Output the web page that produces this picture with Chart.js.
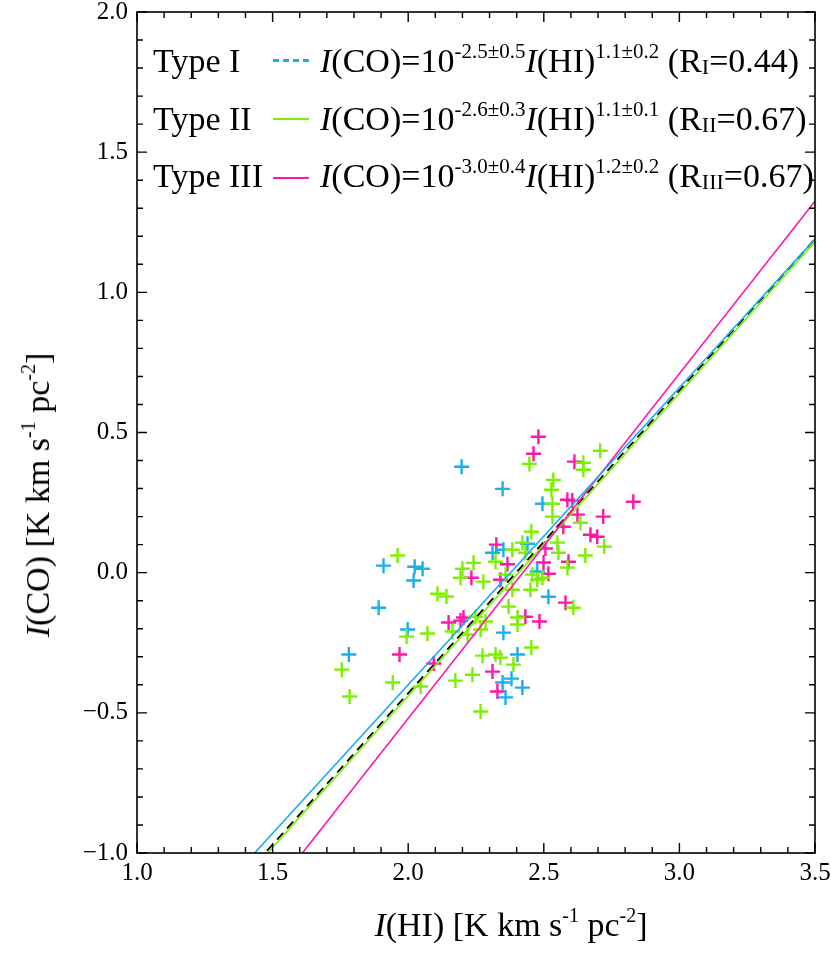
<!DOCTYPE html>
<html>
<head>
<meta charset="utf-8">
<script src="https://cdn.jsdelivr.net/npm/chart.js@4"></script>
<style>
  body { margin: 0; background: #fff; }
  #wrap { position: relative; width: 831px; height: 954px; font-family: "Liberation Serif", serif; color: #000; }
  canvas { position: absolute; left: 0; top: 0; }
  .txt { position: absolute; white-space: nowrap; font-size: 34px; line-height: 40px; }
  .sample { position: absolute; height: 0; }
  sup { font-size: 21px; vertical-align: 0; position: relative; top: -14px; }
  sub { font-size: 22px; vertical-align: 0; position: relative; top: 2px; }
  .xt { position: absolute; left: 511px; top: 905px; font-size: 34px; line-height: 40px; white-space: nowrap; transform: translateX(-50%); }
  .yt { position: absolute; left: 40px; top: 495px; font-size: 34px; line-height: 40px; white-space: nowrap; transform: translate(-50%, -50%) rotate(-90deg); }
  .xt sup, .yt sup { font-size: 20px; top: -14px; }
</style>
</head>
<body>
<div id="wrap">
  <canvas id="myChart" width="831" height="954"></canvas>
  <div id="legend"></div>
  <div class="xt"><i>I</i>(HI) [K km s<sup>-1</sup> pc<sup>-2</sup>]</div>
  <div class="yt"><i>I</i>(CO) [K km s<sup>-1</sup> pc<sup>-2</sup>]</div>
</div>
<script>
"use strict";

// points, log I(HI) vs log I(CO)
const type1X = [2.197, 2.348, 1.909, 2.024, 2.053, 2.020, 1.891, 2.311, 2.351, 2.440, 2.495,
  2.476, 2.517, 1.998, 2.351, 1.781, 2.403, 2.348, 2.381, 2.421, 2.359];
const type1Y = [0.378, 0.299, 0.025, 0.021, 0.014, -0.028, -0.125, 0.071, 0.082, 0.103, 0.246,
  0.004, -0.086, -0.203, -0.214, -0.292, -0.292, -0.392, -0.378, -0.410, -0.445];

const type2X = [1.961, 2.108, 2.141, 2.200, 2.241, 2.193, 2.277, 2.322, 2.384, 2.248, 2.285,
  2.267, 2.219, 2.163, 1.994, 2.071, 1.755, 2.274, 2.322, 2.340, 2.388, 2.237, 2.174, 1.943,
  2.046, 1.784, 2.267, 2.370, 2.403, 2.403, 2.454, 2.532, 2.454, 2.421, 2.432, 2.550, 2.554,
  2.359, 2.458, 2.476, 2.495, 2.384, 2.451, 2.587, 2.609, 2.447, 2.708, 2.646, 2.646, 2.535,
  2.528, 2.532, 2.635, 2.723, 2.653];
const type2Y = [0.061, -0.075, -0.085, 0.014, 0.035, -0.018, -0.032, 0.039, 0.082, -0.157, -0.174,
  -0.203, -0.221, -0.210, -0.228, -0.217, -0.346, -0.296, -0.292, -0.303, -0.328, -0.364, -0.385, -0.392,
  -0.406, -0.442, -0.495, -0.121, -0.160, -0.185, -0.267, 0.200, 0.146, 0.107, 0.071, 0.107, 0.071,
  -0.007, -0.007, -0.025, -0.018, -0.061, -0.061, 0.018, -0.125, 0.388, 0.435, 0.392, 0.367, 0.331,
  0.296, 0.246, 0.178, 0.093, 0.061];

const type3X = [2.233, 2.325, 2.340, 2.366, 2.149, 2.193, 2.204, 1.968, 2.094, 2.311, 2.329,
  2.432, 2.484, 2.506, 2.499, 2.517, 2.591, 2.480, 2.462, 2.613, 2.587, 2.605, 2.624, 2.830,
  2.572, 2.719, 2.672, 2.697, 2.580];
const type3Y = [-0.018, 0.100, -0.025, 0.030, -0.178, -0.171, -0.160, -0.292, -0.324, -0.353, -0.424,
  -0.157, -0.174, 0.086, 0.036, -0.004, 0.039, 0.485, 0.424, 0.396, 0.260, 0.257, 0.207, 0.253,
  0.164, 0.200, 0.135, 0.128, -0.107];

// fitted lines, end values read at x = 1.0 and x = 3.5
const lineX = [1.0, 3.5];
const fit1Y = [-1.46, 1.19];
const fit2Y = [-1.52, 1.18];
const fit3Y = [-1.75, 1.325];
const fitAllY = [-1.51, 1.19];

const xTicks = [1.0, 1.5, 2.0, 2.5, 3.0, 3.5];
const yTicks = [-1.0, -0.5, 0.0, 0.5, 1.0, 1.5, 2.0];

// legend text
const typeLabels = ["Type I", "Type II", "Type III"];
const coefA = ["-2.5±0.5", "-2.6±0.3", "-3.0±0.4"];
const coefB = ["1.1±0.2", "1.1±0.1", "1.2±0.2"];
const rNames = ["I", "II", "III"];
const rValues = ["0.44", "0.67", "0.67"];

const colors = ["#1aaeef", "#7cf000", "#ff17a9"];

function toPoints(xs, ys) {
  return xs.map((x, i) => ({ x: x, y: ys[i] }));
}

function buildLegend() {
  const legend = document.getElementById("legend");
  const rowTop = [41, 99, 156];
  const sampleTop = [59, 118, 177];
  const sampleLine = ["3px dashed " + colors[0], "2px solid " + colors[1], "2px solid " + colors[2]];
  typeLabels.forEach((label, i) => {
    legend.innerHTML +=
      `<div class="txt" style="left:153px;top:${rowTop[i]}px">${label}</div>` +
      `<div class="sample" style="left:273px;width:36px;top:${sampleTop[i]}px;border-top:${sampleLine[i]}"></div>` +
      `<div class="txt" style="left:320px;top:${rowTop[i]}px"><i>I</i>(CO)=10<sup>${coefA[i]}</sup><i>I</i>(HI)<sup>${coefB[i]}</sup> (R<sub>${rNames[i]}</sub>=${rValues[i]})</div>`;
  });
}

// inside ticks on all four sides plus the frame
const frame = {
  id: "frame",
  afterDraw(chart) {
    const { ctx, chartArea: a, scales } = chart;
    ctx.save();
    ctx.strokeStyle = "#000";
    ctx.lineWidth = 1.6;
    ctx.strokeRect(a.left, a.top, a.right - a.left, a.bottom - a.top);
    ctx.lineWidth = 1.4;
    ctx.beginPath();
    for (let i = 0; i <= 25; i++) {
      const px = scales.x.getPixelForValue(1.0 + i * 0.1);
      const len = i % 5 === 0 ? 10 : 6;
      ctx.moveTo(px, a.bottom); ctx.lineTo(px, a.bottom - len);
      ctx.moveTo(px, a.top); ctx.lineTo(px, a.top + len);
    }
    for (let i = 0; i <= 30; i++) {
      const py = scales.y.getPixelForValue(-1.0 + i * 0.1);
      const len = i % 5 === 0 ? 10 : 6;
      ctx.moveTo(a.left, py); ctx.lineTo(a.left + len, py);
      ctx.moveTo(a.right, py); ctx.lineTo(a.right - len, py);
    }
    ctx.stroke();
    ctx.restore();
  },
};

function myChart() {
  const ctx = document.getElementById("myChart").getContext("2d");
  const scatter = (xs, ys, c) => ({
    type: "scatter",
    data: toPoints(xs, ys),
    pointStyle: "cross",
    pointRadius: 7.5,
    pointBorderWidth: 2.4,
    borderColor: c,
    backgroundColor: c,
    order: 2,
  });
  const fitLine = (ys, c, dash, w) => ({
    type: "line",
    data: toPoints(lineX, ys),
    borderColor: c,
    borderWidth: w,
    borderDash: dash,
    pointRadius: 0,
    fill: false,
    order: 1,
  });

  new Chart(ctx, {
    type: "scatter",
    data: {
      datasets: [
        scatter(type2X, type2Y, colors[1]),
        scatter(type1X, type1Y, colors[0]),
        scatter(type3X, type3Y, colors[2]),
        fitLine(fit1Y, colors[0], [], 1.6),
        fitLine(fit3Y, colors[2], [], 1.6),
        fitLine(fit2Y, colors[1], [], 1.6),
        fitLine(fitAllY, "#000", [9, 6], 1.8),
      ],
    },
    options: {
      responsive: false,
      animation: false,
      devicePixelRatio: 1,
      layout: { padding: { left: 0, top: 12, right: 16, bottom: 0 } },
      plugins: { legend: { display: false }, tooltip: { enabled: false } },
      scales: {
        x: {
          type: "linear",
          min: 1.0,
          max: 3.5,
          afterFit: (s) => { s.height = 101; s.paddingLeft = 0; s.paddingRight = 0; },
          afterBuildTicks: (s) => { s.ticks = xTicks.map((v) => ({ value: v })); },
          grid: { display: false, drawTicks: false },
          border: { display: false },
          ticks: {
            padding: 5,
            color: "#000",
            font: { family: "Liberation Serif", size: 25 },
            callback: (v) => v.toFixed(1),
          },
        },
        y: {
          type: "linear",
          min: -1.0,
          max: 2.0,
          afterFit: (s) => { s.width = 137; s.paddingTop = 0; s.paddingBottom = 0; },
          afterBuildTicks: (s) => { s.ticks = yTicks.map((v) => ({ value: v })); },
          grid: { display: false, drawTicks: false },
          border: { display: false },
          ticks: {
            padding: 9,
            color: "#000",
            font: { family: "Liberation Serif", size: 25 },
            callback: (v) => (v < 0 ? "\u2212" + Math.abs(v).toFixed(1) : v.toFixed(1)),
          },
        },
      },
    },
    plugins: [frame],
  });
}

buildLegend();
myChart();
</script>
</body>
</html>
